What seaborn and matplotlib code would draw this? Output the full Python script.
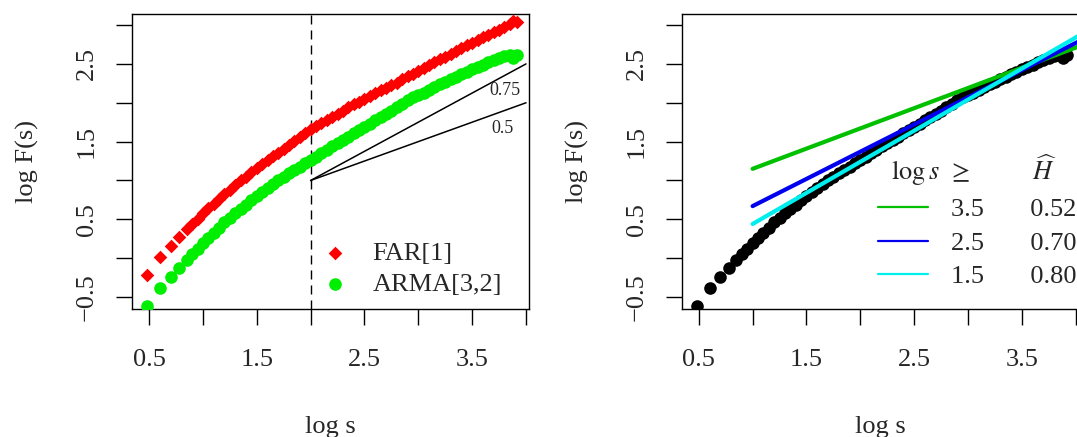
import numpy as np
import pandas as pd
import matplotlib
matplotlib.use("Agg")
import matplotlib.pyplot as plt
from matplotlib.lines import Line2D
import seaborn as sns

# ---------------- data ----------------
log_s = [0.48, 0.60, 0.70, 0.78, 0.85, 0.90, 0.95, 1.00, 1.05, 1.10, 1.15, 1.20,
         1.25, 1.30, 1.35, 1.40, 1.45, 1.50, 1.55, 1.60, 1.65, 1.70, 1.75, 1.80,
         1.85, 1.90, 1.95, 2.00, 2.05, 2.10, 2.15, 2.20, 2.25, 2.30, 2.35, 2.40,
         2.45, 2.50, 2.55, 2.60, 2.65, 2.70, 2.75, 2.80, 2.85, 2.90, 2.95, 3.00,
         3.05, 3.10, 3.15, 3.20, 3.25, 3.30, 3.35, 3.40, 3.45, 3.50, 3.55, 3.60,
         3.65, 3.70, 3.75, 3.80, 3.85, 3.88, 3.92]

far1 = [-0.21, 0.01, 0.16, 0.27, 0.37, 0.44, 0.51, 0.58, 0.64, 0.70, 0.76, 0.82,
        0.88, 0.94, 1.00, 1.05, 1.11, 1.16, 1.21, 1.26, 1.31, 1.36, 1.41, 1.46,
        1.51, 1.56, 1.61, 1.66, 1.70, 1.74, 1.78, 1.82, 1.86, 1.90, 1.94, 1.98,
        2.01, 2.05, 2.09, 2.12, 2.16, 2.19, 2.23, 2.26, 2.30, 2.34, 2.37, 2.41,
        2.45, 2.48, 2.52, 2.56, 2.59, 2.63, 2.67, 2.70, 2.74, 2.77, 2.81, 2.84,
        2.87, 2.91, 2.94, 2.97, 3.02, 3.05, 3.04]

arma32 = [-0.61, -0.39, -0.24, -0.12, -0.02, 0.05, 0.12, 0.19, 0.26, 0.33, 0.39, 0.46,
          0.52, 0.58, 0.63, 0.69, 0.75, 0.80, 0.85, 0.90, 0.95, 1.00, 1.04, 1.09,
          1.13, 1.17, 1.22, 1.26, 1.30, 1.35, 1.39, 1.44, 1.48, 1.52, 1.56, 1.61,
          1.65, 1.69, 1.73, 1.78, 1.82, 1.86, 1.90, 1.94, 1.98, 2.03, 2.07, 2.10,
          2.13, 2.17, 2.20, 2.24, 2.27, 2.30, 2.33, 2.37, 2.40, 2.43, 2.46, 2.49,
          2.52, 2.55, 2.57, 2.60, 2.61, 2.58, 2.62]

series_names = ["FAR[1]", "ARMA[3,2]"]

# reference slopes drawn from the cut-off point
ref_slopes = [0.75, 0.5]
ref_labels = ["0.75", "0.5"]
ref_x0, ref_y0, ref_x1 = 2.0, 1.0, 4.0
cutoff = 2.0

# fitted lines in the right panel
fit_thresholds = ["3.5", "2.5", "1.5"]
fit_H = [0.52, 0.70, 0.80]
fit_intercepts = [0.63, -0.03, -0.36]
fit_start, fit_end = 1.0, 4.3

x_ticks = [0.5, 1.0, 1.5, 2.0, 2.5, 3.0, 3.5, 4.0]
x_ticklabels = ["0.5", "", "1.5", "", "2.5", "", "3.5", ""]
y_ticks = [-0.5, 0.0, 0.5, 1.0, 1.5, 2.0, 2.5, 3.0]
y_ticklabels = ["\u22120.5", "", "0.5", "", "1.5", "", "2.5", ""]

# ---------------- style ----------------
sns.set_style("ticks")
plt.rcParams["font.family"] = ["Liberation Serif", "DejaVu Serif"]
plt.rcParams["mathtext.fontset"] = "stix"
plt.rcParams["axes.linewidth"] = 1.0
plt.rcParams["axes.edgecolor"] = "black"

FS = 19
fig = plt.figure(figsize=(10.77, 4.37), dpi=100)
ax1 = fig.add_axes([0.1226, 0.2929, 0.3686, 0.675])
ax2 = fig.add_axes([0.633, 0.2929, 0.3686, 0.675])

df = pd.DataFrame({"log_s": log_s, "FAR[1]": far1, "ARMA[3,2]": arma32})

# ---------------- left panel ----------------
sns.scatterplot(data=df, x="log_s", y="FAR[1]", ax=ax1, marker="D", color="#FF0000",
                s=48, linewidth=0, label="FAR[1]", zorder=3)
sns.scatterplot(data=df, x="log_s", y="ARMA[3,2]", ax=ax1, marker="o", color="#00EE00",
                s=82, linewidth=0, label="ARMA[3,2]", zorder=3)
ax1.axvline(cutoff, color="black", lw=1.0, ls=(0, (6.5, 4.3)), zorder=2)
for slope, lab in zip(ref_slopes, ref_labels):
    seg = pd.DataFrame({"x": [ref_x0, ref_x1],
                        "y": [ref_y0, ref_y0 + slope * (ref_x1 - ref_x0)]})
    sns.lineplot(data=seg, x="x", y="y", ax=ax1, color="black", lw=1.1,
                 legend=False, zorder=2)
ax1.text(3.80, 2.16, ref_labels[0], fontsize=13, ha="center", va="center")
ax1.text(3.78, 1.67, ref_labels[1], fontsize=13, ha="center", va="center")

leg1 = ax1.legend(loc="lower left", bbox_to_anchor=(0.479, 0.044), frameon=False,
                  fontsize=FS, handlelength=1.0, handletextpad=0.9,
                  labelspacing=0.29, borderpad=0, borderaxespad=0)

# ---------------- right panel ----------------
sns.scatterplot(data=df, x="log_s", y="ARMA[3,2]", ax=ax2, marker="o", color="black",
                s=82, linewidth=0, zorder=3, legend=False)
fit_colors = ["#00C000", "#0000EE", "#00EEEE"]
handles = []
labels = []
for thr, H, a, c in zip(fit_thresholds, fit_H, fit_intercepts, fit_colors):
    fx = np.array([fit_start, fit_end])
    seg = pd.DataFrame({"x": fx, "y": a + H * fx})
    sns.lineplot(data=seg, x="x", y="y", ax=ax2, color=c, lw=3.0, legend=False, zorder=4)
    handles.append(Line2D([], [], color=c, lw=1.6))
    labels.append(f"{thr}" + " " * 7 + f"{H:.2f}")

leg2 = ax2.legend(handles, labels, loc="upper left", bbox_to_anchor=(0.494, 0.53),
                  frameon=False, fontsize=FS, handlelength=1.9, handletextpad=0.87,
                  labelspacing=0.38, borderpad=0, borderaxespad=0,
                  title="  " + r"$\log s\,\ \geq$" + " " * 9 + r"$\widehat{H}$",
                  title_fontsize=FS, alignment="left")

# ---------------- axes cosmetics ----------------
for ax in (ax1, ax2):
    ax.set_xlim(0.342, 4.028)
    ax.set_ylim(-0.654, 3.142)
    ax.set_xticks(x_ticks)
    ax.set_xticklabels(x_ticklabels)
    ax.set_yticks(y_ticks)
    ax.set_yticklabels(y_ticklabels)
    ax.tick_params(axis="both", direction="out", length=11.5, width=1.0,
                   labelsize=FS, color="black")
    ax.tick_params(axis="x", pad=17)
    ax.tick_params(axis="y", pad=13, labelrotation=90)
    for lab in ax.get_yticklabels():
        lab.set_va("center")
    for sp in ax.spines.values():
        sp.set_visible(True)
        sp.set_linewidth(1.0)
    ax.set_xlabel("log s", fontsize=FS)
    ax.set_ylabel("log F(s)", fontsize=FS)
    ax.xaxis.set_label_coords(0.5, -0.364)
    ax.yaxis.set_label_coords(-0.234, 0.5)

fig.savefig("out.png", dpi=100)
